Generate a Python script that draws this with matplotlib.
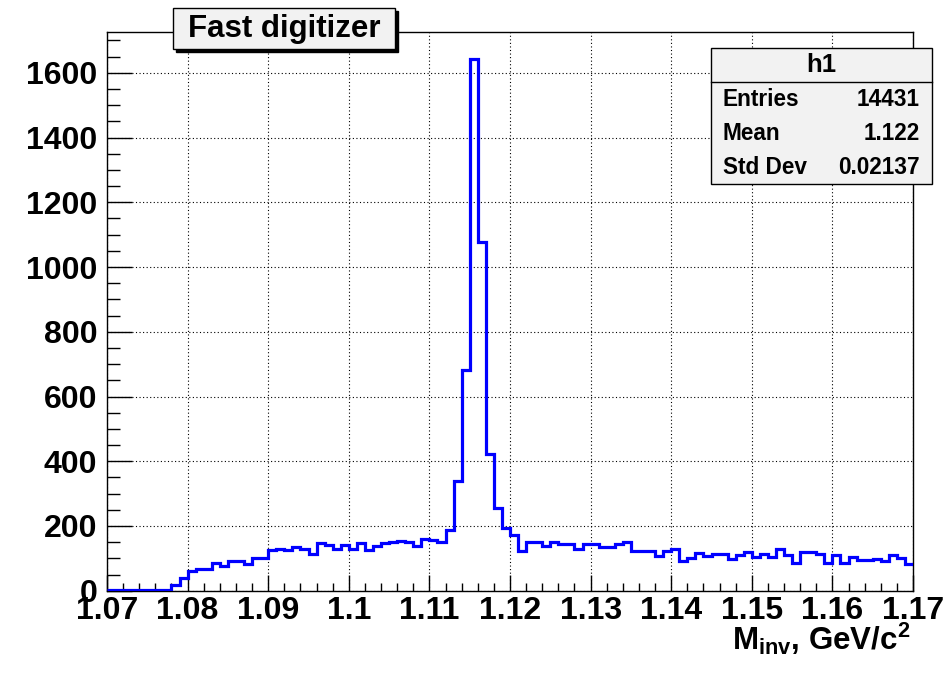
import numpy as np
import matplotlib
matplotlib.use('Agg')
import matplotlib.pyplot as plt
from matplotlib.patches import Rectangle
from matplotlib.ticker import MultipleLocator, FuncFormatter

plt.rcParams['font.family'] = ['Liberation Sans', 'DejaVu Sans']
plt.rcParams['font.weight'] = 'bold'
plt.rcParams['mathtext.default'] = 'regular'

# histogram h1: 100 bins, 1.07 .. 1.17 GeV/c^2
x_lo, x_hi = 1.07, 1.17
counts = [2, 2, 2, 2, 2, 2, 2, 2, 18, 40,
          61, 66, 66, 85, 75, 92, 92, 84, 102, 102,
          127, 130, 125, 135, 129, 112, 146, 141, 130, 141,
          130, 146, 127, 138, 146, 150, 154, 150, 139, 161,
          156, 149, 188, 338, 682, 1644, 1077, 422, 256, 194,
          172, 123, 151, 151, 138, 151, 144, 144, 129, 143,
          143, 134, 134, 143, 150, 124, 122, 122, 106, 124,
          128, 93, 101, 118, 107, 114, 114, 98, 109, 119,
          104, 114, 104, 130, 109, 85, 119, 119, 113, 85,
          109, 85, 104, 96, 96, 98, 93, 109, 102, 81]

title = 'Fast digitizer'
hist_name = 'h1'
stat_names = ['Entries', 'Mean', 'Std Dev']
stat_values = ['14431', '1.122', '0.02137']
x_title = 'M$_{inv}$, GeV/c$^{2}$'

W, H = 953, 682


def fx(px):
    return px / W


def fy(py):
    return (H - py) / H


edges = np.linspace(x_lo, x_hi, len(counts) + 1)

fig = plt.figure(figsize=(W / 100, H / 100), dpi=100)
ax = fig.add_axes([fx(107), fy(590.7), fx(913) - fx(107), fy(32) - fy(590.7)])

ax.stairs(counts, edges, baseline=None, color='#0000ff', linewidth=2.3, zorder=3)
ax.set_xlim(x_lo, x_hi)
ax.set_ylim(0, 1.05 * max(counts))

ax.xaxis.set_major_locator(MultipleLocator(0.01))
ax.xaxis.set_minor_locator(MultipleLocator(0.002))
ax.yaxis.set_major_locator(MultipleLocator(200))
ax.yaxis.set_minor_locator(MultipleLocator(50))
ax.xaxis.set_major_formatter(FuncFormatter(lambda v, p: f'{v:.2f}'.rstrip('0').rstrip('.')))
ax.yaxis.set_major_formatter(FuncFormatter(lambda v, p: f'{v:.0f}'))

ax.tick_params(which='both', direction='in', top=False, right=False, width=1, color='black')
ax.tick_params(axis='both', which='major', labelsize=23)
ax.xaxis.set_tick_params(which='major', length=11.5, pad=3.5)
ax.xaxis.set_tick_params(which='minor', length=5.8)
ax.yaxis.set_tick_params(which='major', length=18, pad=7)
ax.yaxis.set_tick_params(which='minor', length=9)
for lab in ax.get_xticklabels() + ax.get_yticklabels():
    lab.set_fontweight('bold')

ax.set_axisbelow(True)
ax.grid(True, which='major', color='black', linestyle=(0, (1, 2.2)), linewidth=0.8)
for sp in ax.spines.values():
    sp.set_linewidth(1)

fig.text(fx(910), fy(650), x_title, ha='right', va='baseline', fontsize=22.5, fontweight='bold')

# title box with shadow
fig.patches.append(Rectangle((fx(176), fy(52)), fx(222), 41 / H, transform=fig.transFigure,
                             facecolor='black', edgecolor='black', lw=1))
fig.patches.append(Rectangle((fx(173), fy(49)), fx(222), 41 / H, transform=fig.transFigure,
                             facecolor='#f2f2f2', edgecolor='black', lw=1))
fig.text(fx(284), fy(29), title, ha='center', va='center', fontsize=22.5, fontweight='bold')

# stats box
fig.patches.append(Rectangle((fx(711), fy(184)), fx(221), 136 / H, transform=fig.transFigure,
                             facecolor='#f2f2f2', edgecolor='black', lw=1))
fig.lines.append(plt.Line2D([fx(711), fx(932)], [fy(81.7), fy(81.7)], transform=fig.transFigure,
                            color='black', lw=1))
fig.text(fx(821.5), fy(65), hist_name, ha='center', va='center', fontsize=18.5, fontweight='bold')
for k, (nm, val) in enumerate(zip(stat_names, stat_values)):
    yy = fy(100 + 34 * k)
    fig.text(fx(722.7), yy, nm, ha='left', va='center', fontsize=16.3, fontweight='bold')
    fig.text(fx(920), yy, val, ha='right', va='center', fontsize=16.3, fontweight='bold')

fig.savefig('out.png', dpi=100, facecolor='white')
